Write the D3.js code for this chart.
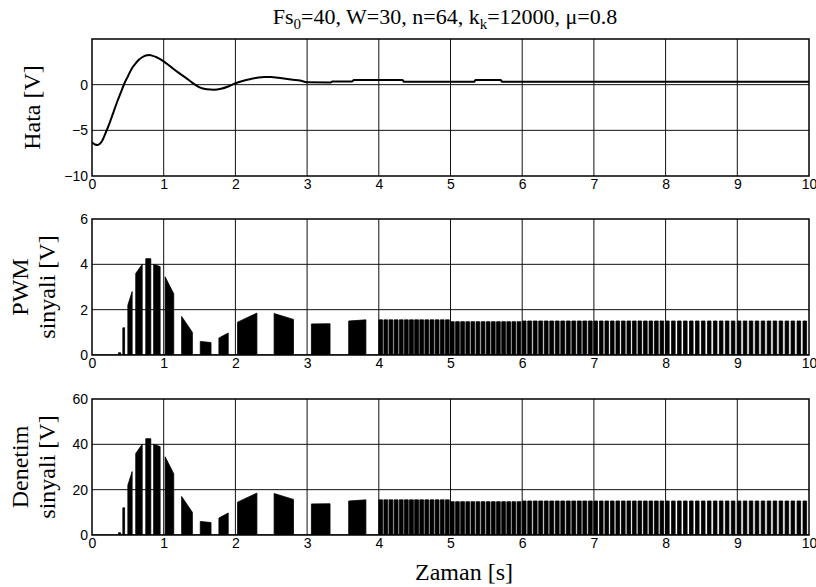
<!DOCTYPE html>
<html>
<head>
<meta charset="utf-8">
<script src="https://cdn.jsdelivr.net/npm/d3@7"></script>
<style>
  body { margin: 0; background: #fff; }
  svg text { fill: #000; }
</style>
</head>
<body>
<div id="chart"></div>
<script>
// ---- data ----
var timeTicks = [0, 1, 2, 3, 4, 5, 6, 7, 8, 9, 10];
var hataTicks = [-10, -5, 0];
var pwmTicks = [0, 2, 4, 6];
var denetimTicks = [0, 20, 40, 60];

// Hata [V] (error) vs time
var hataTime  = [0, 0.04, 0.08, 0.13, 0.2, 0.25, 0.3, 0.35, 0.4, 0.45, 0.5, 0.55, 0.6, 0.65, 0.7, 0.75, 0.8, 0.85, 0.9, 0.95,
                 1.0, 1.1, 1.2, 1.3, 1.4, 1.5, 1.6, 1.7, 1.8, 1.9, 2.0, 2.1, 2.2, 2.3, 2.4, 2.5, 2.6, 2.7, 2.8, 2.9,
                 3.0, 3.33, 3.35, 3.63, 3.65, 4.33, 4.35, 5.33, 5.35, 5.7, 5.72, 10];
var hataValue = [-6.3, -6.55, -6.6, -6.3, -5.1, -4.1, -3.0, -1.9, -0.9, 0.1, 0.9, 1.7, 2.25, 2.7, 3.0, 3.2, 3.25, 3.15, 3.0, 2.8,
                 2.55, 1.95, 1.35, 0.8, 0.2, -0.3, -0.5, -0.55, -0.45, -0.2, 0.15, 0.4, 0.6, 0.75, 0.85, 0.85, 0.75, 0.65, 0.55, 0.45,
                 0.27, 0.25, 0.35, 0.35, 0.5, 0.5, 0.33, 0.33, 0.5, 0.5, 0.33, 0.33];

// bursts before 4 s: [start, end, amplitude at start, amplitude at end]
var pwmBursts = [
  [0.37, 0.40, 0.1, 0.1], [0.43, 0.455, 1.2, 1.2], [0.50, 0.56, 2.2, 2.8], [0.61, 0.70, 3.6, 4.0],
  [0.75, 0.82, 4.25, 4.25], [0.86, 0.95, 4.0, 3.9], [1.02, 1.14, 3.45, 2.7], [1.25, 1.40, 1.7, 1.0],
  [1.51, 1.66, 0.6, 0.55], [1.77, 1.90, 0.75, 0.97], [2.03, 2.30, 1.45, 1.85], [2.54, 2.81, 1.83, 1.57],
  [3.06, 3.32, 1.37, 1.38], [3.58, 3.82, 1.5, 1.55]
];
var denetimBursts = [
  [0.37, 0.40, 1, 1], [0.43, 0.455, 12, 12], [0.50, 0.56, 22, 28], [0.61, 0.70, 36, 40],
  [0.75, 0.82, 42.5, 42.5], [0.86, 0.95, 40, 39], [1.02, 1.14, 34.5, 27], [1.25, 1.40, 17, 10],
  [1.51, 1.66, 6, 5.5], [1.77, 1.90, 7.5, 9.7], [2.03, 2.30, 14.5, 18.5], [2.54, 2.81, 18.3, 15.7],
  [3.06, 3.32, 13.7, 13.8], [3.58, 3.82, 15, 15.5]
];
// pulse trains after 4 s: [start, end, pulse count, duty, amplitude]
var pwmTrains = [
  [4, 5, 14, 0.75, 1.55], [5, 6, 14, 0.72, 1.47], [6, 7, 13, 0.70, 1.5],
  [7, 8, 13, 0.66, 1.5], [8, 9, 12, 0.60, 1.5], [9, 10, 12, 0.60, 1.5]
];
var denetimTrains = [
  [4, 5, 14, 0.75, 15.5], [5, 6, 14, 0.72, 14.7], [6, 7, 13, 0.70, 15],
  [7, 8, 13, 0.66, 15], [8, 9, 12, 0.60, 15], [9, 10, 12, 0.60, 15]
];

// ---- layout ----
var width = 816, height = 587;
var plotLeft = 92, plotRight = 809;
var serif = "'Liberation Serif', 'Times New Roman', serif";
var sans = "'Liberation Sans', Arial, sans-serif";

var svg = d3.select("#chart").append("svg")
    .attr("width", width)
    .attr("height", height);

var x = d3.scaleLinear().domain([0, 10]).range([plotLeft, plotRight]);

function signalPoints(bursts, trains) {
  var pts = [[0, 0]];
  bursts.forEach(function (b) {
    pts.push([b[0], 0], [b[0], b[2]], [b[1], b[3]], [b[1], 0]);
  });
  trains.forEach(function (s) {
    var step = (s[1] - s[0]) / s[2];
    for (var k = 0; k < s[2]; k++) {
      var t0 = s[0] + k * step, t1 = t0 + step * s[3];
      pts.push([t0, 0], [t0, s[4]], [t1, s[4]], [t1, 0]);
    }
  });
  pts.push([10, 0]);
  return pts;
}

var panels = [
  { top: 39, bottom: 176, domain: [-10, 5], ticks: hataTicks, label: ["Hata [V]"], labelX: [40] },
  { top: 219, bottom: 355, domain: [0, 6], ticks: pwmTicks, label: ["PWM", "sinyali [V]"], labelX: [28, 55] },
  { top: 399, bottom: 535, domain: [0, 60], ticks: denetimTicks, label: ["Denetim", "sinyali [V]"], labelX: [28, 55] }
];

panels.forEach(function (p, i) {
  var y = d3.scaleLinear().domain(p.domain).range([p.bottom, p.top]);
  var g = svg.append("g");

  g.append("clipPath").attr("id", "clip" + i)
    .append("rect")
    .attr("x", plotLeft).attr("y", p.top)
    .attr("width", plotRight - plotLeft).attr("height", p.bottom - p.top);

  // grid
  g.append("g").selectAll("line")
    .data(timeTicks.slice(1, -1)).enter().append("line")
    .attr("x1", function (d) { return x(d); }).attr("x2", function (d) { return x(d); })
    .attr("y1", p.top).attr("y2", p.bottom)
    .attr("stroke", "#111").attr("stroke-width", 1);
  g.append("g").selectAll("line")
    .data(p.ticks.filter(function (d) { return d > p.domain[0] && d < p.domain[1]; })).enter().append("line")
    .attr("x1", plotLeft).attr("x2", plotRight)
    .attr("y1", function (d) { return y(d); }).attr("y2", function (d) { return y(d); })
    .attr("stroke", "#111").attr("stroke-width", 1);

  // data
  var plot = g.append("g").attr("clip-path", "url(#clip" + i + ")");
  if (i === 0) {
    var line = d3.line()
      .x(function (d) { return x(d[0]); })
      .y(function (d) { return y(d[1]); })
      .curve(d3.curveMonotoneX);
    plot.append("path")
      .attr("d", line(d3.zip(hataTime, hataValue)))
      .attr("fill", "none").attr("stroke", "#000").attr("stroke-width", 2);
  } else {
    var pts = i === 1 ? signalPoints(pwmBursts, pwmTrains) : signalPoints(denetimBursts, denetimTrains);
    var area = d3.area()
      .x(function (d) { return x(d[0]); })
      .y0(y(0))
      .y1(function (d) { return y(d[1]); });
    plot.append("path")
      .attr("d", area(pts))
      .attr("fill", "#000").attr("stroke", "#000").attr("stroke-width", 0.8);
  }

  // frame
  g.append("rect")
    .attr("x", plotLeft).attr("y", p.top)
    .attr("width", plotRight - plotLeft).attr("height", p.bottom - p.top)
    .attr("fill", "none").attr("stroke", "#000").attr("stroke-width", 1.5);

  // axes
  var xAxis = g.append("g")
    .attr("transform", "translate(0," + p.bottom + ")")
    .call(d3.axisBottom(x).tickValues(timeTicks).tickSize(0).tickPadding(3).tickFormat(d3.format("d")));
  var yAxis = g.append("g")
    .attr("transform", "translate(" + plotLeft + ",0)")
    .call(d3.axisLeft(y).tickValues(p.ticks).tickSize(0).tickPadding(4).tickFormat(d3.format("d")));
  [xAxis, yAxis].forEach(function (a) {
    a.select(".domain").remove();
    a.selectAll("text").attr("font-family", sans).attr("font-size", "14px").attr("fill", "#000");
  });

  // y label
  var cy = (p.top + p.bottom) / 2;
  p.label.forEach(function (txt, j) {
    svg.append("text")
      .attr("transform", "translate(" + p.labelX[j] + "," + cy + ") rotate(-90)")
      .attr("text-anchor", "middle")
      .attr("font-family", serif).attr("font-size", "24px")
      .text(txt);
  });
});

// title
var title = svg.append("text")
  .attr("x", 445).attr("y", 24)
  .attr("text-anchor", "middle")
  .attr("font-family", serif).attr("font-size", "22px");
title.append("tspan").text("Fs");
title.append("tspan").attr("font-size", "15px").attr("dy", 5).text("0");
title.append("tspan").attr("dy", -5).text("=40, W=30, n=64, k");
title.append("tspan").attr("font-size", "15px").attr("dy", 5).text("k");
title.append("tspan").attr("dy", -5).text("=12000, \u03bc=0.8");

// x label
svg.append("text")
  .attr("x", 464).attr("y", 580)
  .attr("text-anchor", "middle")
  .attr("font-family", serif).attr("font-size", "24px")
  .text("Zaman [s]");
</script>
</body>
</html>
